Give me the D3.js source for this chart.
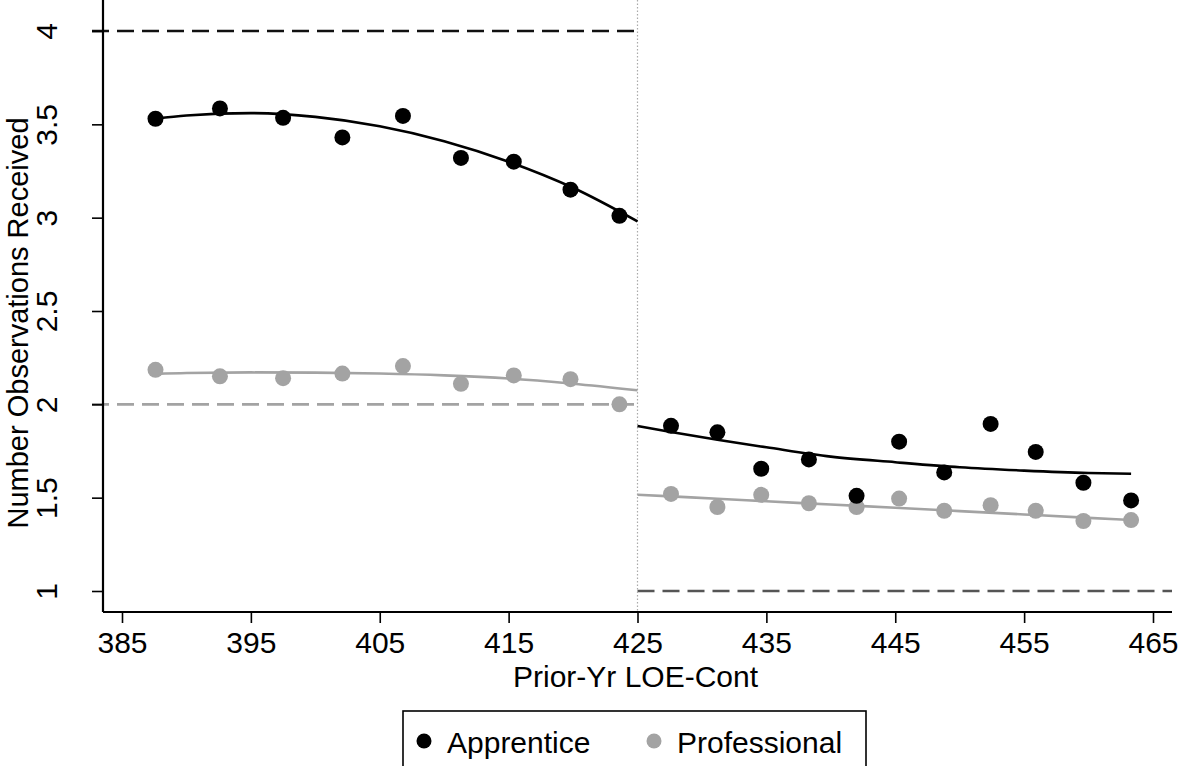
<!DOCTYPE html>
<html>
<head>
<meta charset="utf-8">
<script src="https://cdn.jsdelivr.net/npm/d3@7"></script>
<style>
  body { margin: 0; background: #fff; }
  svg text { font-family: "Liberation Sans", Arial, Helvetica, sans-serif; fill: #000; }
</style>
</head>
<body>
<figure id="rd" style="margin:0"></figure>
<script>
const seriesNames = ["Apprentice", "Professional"];
const seriesColors = ["#000000", "#a3a3a3"];

const xLeft = [387.6, 392.6, 397.5, 402.1, 406.8, 411.3, 415.4, 419.8, 423.6];
const xRight = [427.6, 431.2, 434.6, 438.3, 442.0, 445.3, 448.8, 452.4, 455.9, 459.6, 463.3];

const apprenticeLeft = [3.53, 3.585, 3.535, 3.43, 3.545, 3.32, 3.30, 3.15, 3.01];
const apprenticeRight = [1.885, 1.85, 1.655, 1.705, 1.51, 1.80, 1.635, 1.895, 1.745, 1.58, 1.485];
const professionalLeft = [2.185, 2.15, 2.14, 2.165, 2.205, 2.11, 2.155, 2.135, 2.0];
const professionalRight = [1.52, 1.45, 1.515, 1.47, 1.45, 1.495, 1.43, 1.46, 1.43, 1.375, 1.38];

// fitted curves
const fitXLeft = [387.6, 390, 395, 400, 405, 410, 415, 420, 425];
const fitApprenticeLeft = [3.53, 3.547, 3.56, 3.54, 3.49, 3.41, 3.30, 3.16, 2.98];
const fitProfessionalLeft = [2.163, 2.168, 2.171, 2.170, 2.165, 2.155, 2.138, 2.11, 2.075];
const fitXRight = [425, 427.6, 431.2, 435, 440, 445, 450, 455, 460, 463.3];
const fitApprenticeRight = [1.884, 1.852, 1.81, 1.77, 1.72, 1.69, 1.663, 1.645, 1.632, 1.628];
const fitProfessionalRight = [1.516, 1.507, 1.494, 1.481, 1.463, 1.446, 1.428, 1.410, 1.392, 1.380];

const xTicks = [385, 395, 405, 415, 425, 435, 445, 455, 465];
const yTicks = [1, 1.5, 2, 2.5, 3, 3.5, 4];
const cutoff = 425;
const refLines = [
  { y: 4, from: 385 - 1.45, to: cutoff, color: "#111111" },
  { y: 2, from: 385 - 1.45, to: cutoff, color: "#a3a3a3" },
  { y: 1, from: cutoff, to: 465 + 1.45, color: "#555555" }
];

const width = 1180, height = 766;
const plotLeft = 103, plotRight = 1172, axisY = 612;
const fontSize = 30;

const svg = d3.select("figure#rd")
  .append("svg")
  .attr("width", width)
  .attr("height", height);

const x = d3.scaleLinear().domain([385, 465]).range([122, 1153]);
const y = d3.scaleLinear().domain([1, 4]).range([591, 31]);

// reference lines
refLines.forEach(r => {
  svg.append("line")
    .attr("x1", r.from === cutoff ? x(cutoff) : plotLeft - 11)
    .attr("x2", r.to === cutoff ? x(cutoff) : plotRight)
    .attr("y1", y(r.y)).attr("y2", y(r.y))
    .attr("stroke", r.color)
    .attr("stroke-width", 2.6)
    .attr("stroke-dasharray", "17,8");
});

svg.append("line")
  .attr("x1", x(cutoff)).attr("x2", x(cutoff))
  .attr("y1", 0).attr("y2", axisY)
  .attr("stroke", "#aaaaaa")
  .attr("stroke-width", 1.2)
  .attr("stroke-dasharray", "1.5,2");

// axes
const xAxis = svg.append("g")
  .attr("transform", "translate(0," + axisY + ")")
  .call(d3.axisBottom(x).tickValues(xTicks).tickSize(11).tickPadding(9).tickSizeOuter(0));
xAxis.select(".domain").remove();
xAxis.append("line")
  .attr("x1", plotLeft).attr("x2", plotRight)
  .attr("stroke", "#000").attr("stroke-width", 2.2);
xAxis.selectAll(".tick line").attr("stroke-width", 1.6);
xAxis.selectAll(".tick text")
  .style("font-size", fontSize + "px")
  .attr("fill", "#000");

const yAxis = svg.append("g")
  .attr("transform", "translate(" + plotLeft + ",0)")
  .call(d3.axisLeft(y).tickValues(yTicks).tickSize(11).tickFormat(d3.format("")));
yAxis.select(".domain").remove();
yAxis.append("line")
  .attr("y1", 0).attr("y2", axisY)
  .attr("stroke", "#000").attr("stroke-width", 2.2);
yAxis.selectAll(".tick line").attr("stroke-width", 1.6);
yAxis.selectAll(".tick text")
  .style("font-size", fontSize + "px")
  .attr("fill", "#000")
  .attr("text-anchor", "middle")
  .attr("x", 0).attr("dy", 0)
  .attr("transform", "translate(-57,0) rotate(-90)")
  .attr("dominant-baseline", "central");

svg.append("text")
  .attr("x", (plotLeft + plotRight) / 2 - 2)
  .attr("y", 687)
  .attr("text-anchor", "middle")
  .style("font-size", fontSize + "px")
  .text("Prior-Yr LOE-Cont");

svg.append("text")
  .attr("transform", "translate(18," + ((31 + 615) / 2) + ") rotate(-90)")
  .attr("text-anchor", "middle")
  .attr("dominant-baseline", "central")
  .style("font-size", (fontSize - 1) + "px")
  .text("Number Observations Received");

// fit lines
const line = d3.line()
  .x(d => x(d[0]))
  .y(d => y(d[1]))
  .curve(d3.curveMonotoneX);

const fits = [
  [fitXLeft, fitProfessionalLeft, 1],
  [fitXRight, fitProfessionalRight, 1],
  [fitXLeft, fitApprenticeLeft, 0],
  [fitXRight, fitApprenticeRight, 0]
];
fits.forEach(f => {
  svg.append("path")
    .datum(d3.zip(f[0], f[1]))
    .attr("d", line)
    .attr("fill", "none")
    .attr("stroke", seriesColors[f[2]])
    .attr("stroke-width", 2.6);
});

// points
const pts = [
  [xLeft, professionalLeft, 1],
  [xRight, professionalRight, 1],
  [xLeft, apprenticeLeft, 0],
  [xRight, apprenticeRight, 0]
];
pts.forEach(p => {
  svg.append("g")
    .selectAll("circle")
    .data(d3.zip(p[0], p[1]))
    .enter()
    .append("circle")
    .attr("cx", d => x(d[0]))
    .attr("cy", d => y(d[1]))
    .attr("r", 8)
    .attr("fill", seriesColors[p[2]]);
});

// legend
const legend = svg.append("g");
legend.append("rect")
  .attr("x", 403).attr("y", 711)
  .attr("width", 463).attr("height", 60)
  .attr("fill", "#fff")
  .attr("stroke", "#000")
  .attr("stroke-width", 1.6);

const legendX = [424, 654];
seriesNames.forEach((name, i) => {
  legend.append("circle")
    .attr("cx", legendX[i]).attr("cy", 741)
    .attr("r", 7.5)
    .attr("fill", seriesColors[i]);
  legend.append("text")
    .attr("x", legendX[i] + 23).attr("y", 742)
    .attr("dominant-baseline", "central")
    .style("font-size", fontSize + "px")
    .text(name);
});
</script>
</body>
</html>
